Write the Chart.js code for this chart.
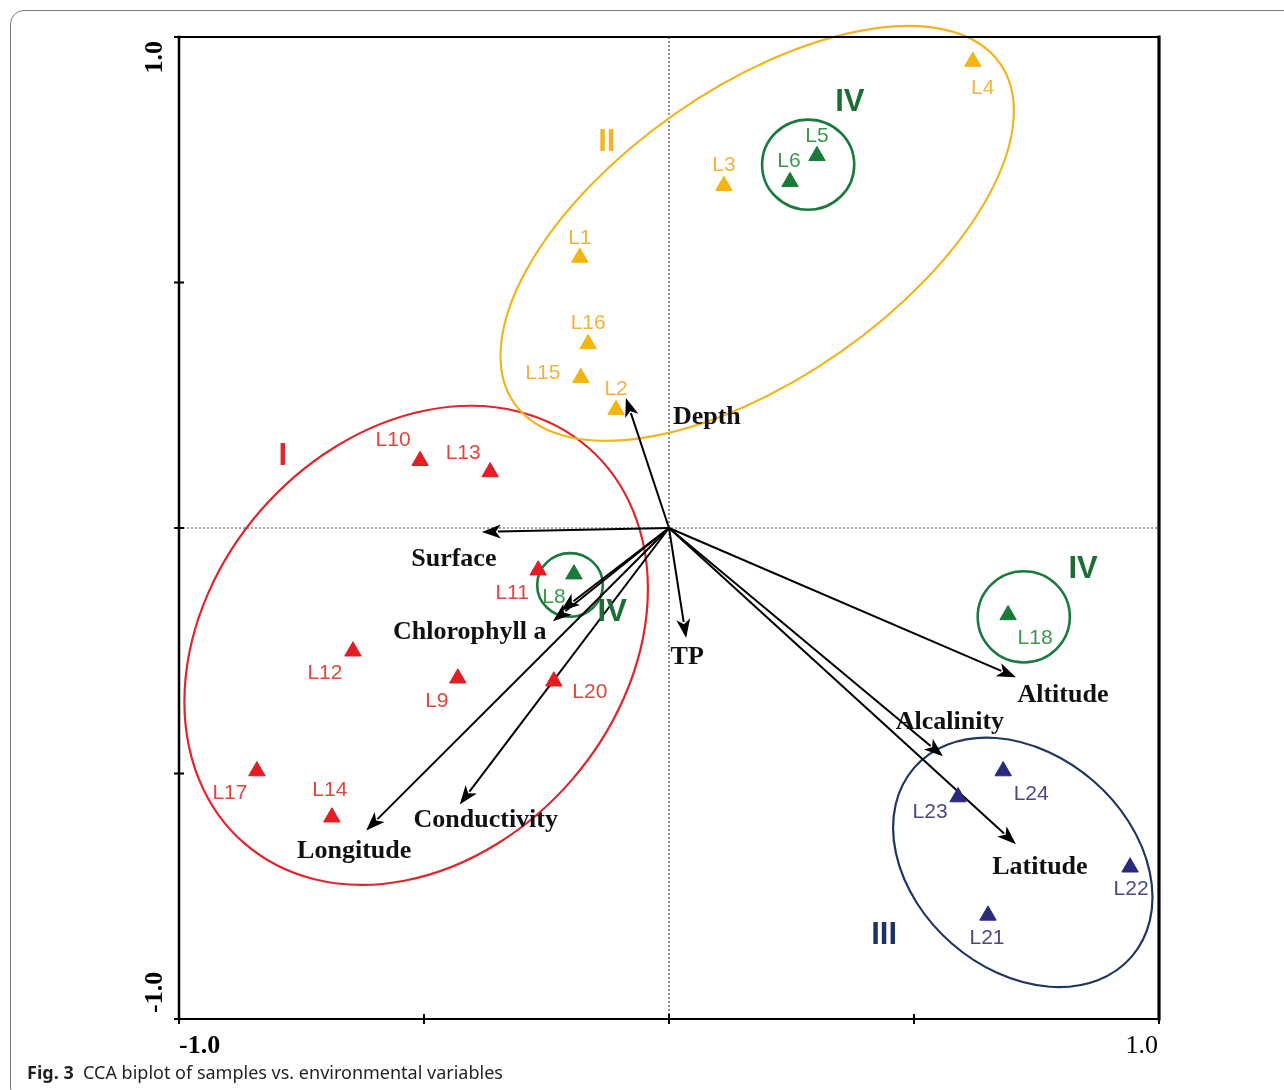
<!DOCTYPE html>
<html>
<head>
<meta charset="utf-8">
<script src="https://cdn.jsdelivr.net/npm/chart.js@4.4.1/dist/chart.umd.min.js"></script>
<style>
  html, body { margin: 0; padding: 0; background: #fff; overflow: hidden; }
  #wrap { position: relative; width: 1284px; height: 1090px; overflow: hidden; }
  #frame { position: absolute; left: 10px; top: 10px; width: 1330px; height: 1092px;
           border: 1.5px solid #7a7a7a; border-radius: 14px; box-sizing: border-box; }
  #c { position: absolute; left: 0; top: 0; }
  #caption { position: absolute; left: 27px; top: 1060px; font: 18px 'Noto Sans', 'Open Sans', sans-serif;
             color: #231f20; white-space: nowrap; }
  #caption b { font-weight: 700; }
</style>
</head>
<body>
<div id="wrap">
  <div id="frame"></div>
  <canvas id="c" width="1284" height="1090"></canvas>
  <div id="caption"><b>Fig. 3</b>&nbsp; CCA biplot of samples vs. environmental variables</div>
</div>
<script>
// ---- axis ticks ----
const axisTicks = [-1, -0.5, 0, 0.5, 1];
const axisEndLabels = ['-1.0', '1.0'];

// ---- sample scores (CCA axis 1, axis 2) by cluster ----
const groupI_ids = ['L10', 'L13', 'L11', 'L12', 'L9', 'L20', 'L17', 'L14'];
const groupI_x   = [-0.508, -0.365, -0.267, -0.645, -0.431, -0.235, -0.841, -0.688];
const groupI_y   = [ 0.137,  0.114, -0.086, -0.251, -0.306, -0.312, -0.495, -0.589];

const groupII_ids = ['L1', 'L2', 'L3', 'L4', 'L15', 'L16'];
const groupII_x   = [-0.182, -0.108, 0.112, 0.620, -0.180, -0.165];
const groupII_y   = [ 0.551,  0.241, 0.697, 0.950,  0.306,  0.375];

const groupIII_ids = ['L21', 'L22', 'L23', 'L24'];
const groupIII_x   = [ 0.651,  0.941,  0.590,  0.682];
const groupIII_y   = [-0.789, -0.691, -0.548, -0.495];

const groupIV_ids = ['L5', 'L6', 'L8', 'L18'];
const groupIV_x   = [0.302, 0.247, -0.194,  0.692];
const groupIV_y   = [0.758, 0.705, -0.094, -0.177];

// ---- environmental variable vectors (arrow tips) ----
const envNames = ['Depth', 'Surface', 'Chlorophyll a', '', 'Longitude', 'Conductivity', 'TP', 'Altitude', 'Alcalinity', 'Latitude'];
const envX     = [-0.088, -0.382, -0.221, -0.237, -0.618, -0.427,  0.035,  0.708,  0.559,  0.708];
const envY     = [ 0.265, -0.008, -0.169, -0.190, -0.616, -0.563, -0.224, -0.304, -0.465, -0.644];

// ---- cluster envelopes: centre, semi-axes, tilt (degrees) ----
const envGroup = ['I', 'II', 'III', 'IV', 'IV', 'IV'];
const envCx    = [-0.516,  0.180,  0.722,  0.284, -0.202,  0.724];
const envCy    = [-0.239,  0.600, -0.681,  0.740, -0.116, -0.181];
const envRa    = [ 0.535,  0.605,  0.294,  0.094,  0.067,  0.094];
const envRb    = [ 0.420,  0.296,  0.220,  0.092,  0.065,  0.093];
const envTilt  = [ 49,     35,    -41,     0,      0,      0];

// ---- cluster numerals ----
const numeralText = ['I', 'II', 'III', 'IV', 'IV', 'IV'];
const numeralX    = [-0.788, -0.127, 0.439, 0.369,  0.845, -0.116];
const numeralY    = [ 0.145,  0.785, -0.830, 0.866, -0.084, -0.173];

// ---- styling ----
const groupColor   = { I: '#e31d23', II: '#f4b414', III: '#2a2a7c', IV: '#1a7a37' };
const lineColor    = { I: '#e0262b', II: '#f2b522', III: '#1f3562', IV: '#1c7a3c' };
const textColor    = { I: '#e2453f', II: '#f2b33c', III: '#4a4985', IV: '#3b984c' };
const numeralColor = { I: '#e3262a', II: '#f2b52a', III: '#1d3461', IV: '#1c6e35' };

// label offsets from each point, in pixels
const sampleLabelOffset = {
  L1: [0, -19], L2: [0, -20], L3: [0, -21], L4: [10, 27], L15: [-38, -5], L16: [0, -21],
  L5: [0, -20], L6: [-1, -21], L8: [-20, 23], L18: [27, 23],
  L10: [-27, -21], L13: [-27, -19], L11: [-26, 23], L12: [-28, 22], L9: [-21, 23],
  L20: [36, 11], L17: [-27, 22], L14: [-2, -27],
  L24: [28, 23], L23: [-28, 15], L22: [1, 22], L21: [-1, 23]
};
const envLabelOffset = [[81, 19], [-28, 27], [-91, 21], [0, 0], [-12, 21], [26, 16], [1, 19], [47, 18], [7, -34], [24, 23]];

const zip = (xs, ys, ids) => xs.map((x, i) => ({ x: x, y: ys[i], id: ids[i] }));

const biplotDecor = {
  id: 'biplotDecor',
  beforeDatasetsDraw(chart) {
    const { ctx, chartArea: a, scales: { x, y } } = chart;
    const px = v => x.getPixelForValue(v), py = v => y.getPixelForValue(v);
    const unit = px(1) - px(0);
    ctx.save();
    // dotted zero lines
    ctx.strokeStyle = '#444';
    ctx.lineWidth = 1.2;
    ctx.setLineDash([2, 2]);
    ctx.beginPath();
    ctx.moveTo(px(0), a.top); ctx.lineTo(px(0), a.bottom);
    ctx.moveTo(a.left, py(0)); ctx.lineTo(a.right, py(0));
    ctx.stroke();
    ctx.setLineDash([]);

    // cluster envelopes
    envGroup.forEach((g, i) => {
      ctx.beginPath();
      ctx.strokeStyle = lineColor[g];
      ctx.lineWidth = g === 'IV' ? 2.6 : 2.2;
      ctx.ellipse(px(envCx[i]), py(envCy[i]), envRa[i] * unit, envRb[i] * unit,
                  -envTilt[i] * Math.PI / 180, 0, Math.PI * 2);
      ctx.stroke();
    });

    // environmental arrows
    const ox = px(0), oy = py(0);
    ctx.strokeStyle = '#000';
    ctx.fillStyle = '#000';
    ctx.lineWidth = 2;
    envNames.forEach((n, i) => {
      const tx = px(envX[i]), ty = py(envY[i]);
      const ang = Math.atan2(ty - oy, tx - ox);
      const hl = 19, hw = 7;
      const bx = tx - Math.cos(ang) * hl, by = ty - Math.sin(ang) * hl;
      ctx.beginPath();
      ctx.moveTo(ox, oy);
      ctx.lineTo(bx + Math.cos(ang) * 3, by + Math.sin(ang) * 3);
      ctx.stroke();
      ctx.beginPath();
      ctx.moveTo(tx, ty);
      ctx.lineTo(bx + Math.sin(ang) * hw, by - Math.cos(ang) * hw);
      ctx.lineTo(bx + Math.cos(ang) * 5, by + Math.sin(ang) * 5);
      ctx.lineTo(bx - Math.sin(ang) * hw, by + Math.cos(ang) * hw);
      ctx.closePath();
      ctx.fill();
    });

    // variable names
    ctx.font = "bold 26px 'Liberation Serif', 'Times New Roman', serif";
    ctx.textAlign = 'center';
    ctx.textBaseline = 'middle';
    ctx.fillStyle = '#111';
    envNames.forEach((n, i) => {
      if (!n) return;
      const o = envLabelOffset[i];
      ctx.fillText(n, px(envX[i]) + o[0], py(envY[i]) + o[1]);
    });

    // cluster numerals
    ctx.font = "bold 31px 'Liberation Sans', Arial, sans-serif";
    numeralText.forEach((t, i) => {
      ctx.fillStyle = numeralColor[envGroup[i]];
      ctx.fillText(t, px(numeralX[i]), py(numeralY[i]));
    });
    ctx.restore();
  },
  afterDatasetsDraw(chart) {
    const { ctx, chartArea: a, scales: { x, y } } = chart;
    const px = v => x.getPixelForValue(v), py = v => y.getPixelForValue(v);
    ctx.save();
    // sample names
    ctx.font = "21px 'Liberation Sans', Arial, sans-serif";
    ctx.textAlign = 'center';
    ctx.textBaseline = 'middle';
    chart.data.datasets.forEach(ds => {
      ctx.fillStyle = textColor[ds.label];
      ds.data.forEach(p => {
        const o = sampleLabelOffset[p.id] || [0, -20];
        ctx.fillText(p.id, px(p.x) + o[0], py(p.y) + o[1]);
      });
    });

    // frame
    ctx.strokeStyle = '#000';
    ctx.lineCap = 'square';
    ctx.lineWidth = 2.5;
    ctx.beginPath(); ctx.moveTo(a.left, a.top); ctx.lineTo(a.left, a.bottom); ctx.stroke();
    ctx.lineWidth = 2;
    ctx.beginPath(); ctx.moveTo(a.left, a.top); ctx.lineTo(a.right, a.top); ctx.stroke();
    ctx.beginPath(); ctx.moveTo(a.left, a.bottom); ctx.lineTo(a.right, a.bottom); ctx.stroke();
    ctx.lineWidth = 3.2;
    ctx.beginPath(); ctx.moveTo(a.right, a.top); ctx.lineTo(a.right, a.bottom); ctx.stroke();
    ctx.lineCap = 'butt';

    // tick marks
    ctx.lineWidth = 2;
    axisTicks.forEach(t => {
      const tx = px(t), ty = py(t);
      ctx.beginPath();
      ctx.moveTo(tx, a.bottom - 5); ctx.lineTo(tx, a.bottom + 5);
      ctx.moveTo(a.left - 5, ty); ctx.lineTo(a.left + 5, ty);
      ctx.stroke();
    });

    // end labels
    ctx.fillStyle = '#000';
    ctx.textBaseline = 'middle';
    ctx.font = "bold 26px 'Liberation Serif', 'Times New Roman', serif";
    ctx.textAlign = 'left';
    ctx.fillText(axisEndLabels[0], px(-1), a.bottom + 27);
    ctx.font = "26px 'Liberation Serif', 'Times New Roman', serif";
    ctx.textAlign = 'right';
    ctx.fillText(axisEndLabels[1], px(1) - 1, a.bottom + 27);

    ctx.font = "bold 26px 'Liberation Serif', 'Times New Roman', serif";
    ctx.save();
    ctx.translate(a.left - 24, py(1) + 4);
    ctx.rotate(-Math.PI / 2);
    ctx.textAlign = 'right';
    ctx.fillText(axisEndLabels[1], 0, 0);
    ctx.restore();
    ctx.save();
    ctx.translate(a.left - 24, py(-1) - 6);
    ctx.rotate(-Math.PI / 2);
    ctx.textAlign = 'left';
    ctx.fillText(axisEndLabels[0], 0, 0);
    ctx.restore();
    ctx.restore();
  }
};

const mkSet = (label, xs, ys, ids) => ({
  label: label,
  data: zip(xs, ys, ids),
  pointStyle: 'triangle',
  pointRadius: 9.5,
  backgroundColor: groupColor[label],
  borderColor: groupColor[label],
  borderWidth: 1
});

new Chart(document.getElementById('c'), {
  type: 'scatter',
  data: {
    datasets: [
      mkSet('I', groupI_x, groupI_y, groupI_ids),
      mkSet('II', groupII_x, groupII_y, groupII_ids),
      mkSet('III', groupIII_x, groupIII_y, groupIII_ids),
      mkSet('IV', groupIV_x, groupIV_y, groupIV_ids)
    ]
  },
  options: {
    responsive: false,
    animation: false,
    devicePixelRatio: 1,
    layout: { padding: { left: 179, right: 125, top: 37, bottom: 71 } },
    plugins: { legend: { display: false }, tooltip: { enabled: false } },
    scales: {
      x: { type: 'linear', min: -1, max: 1, display: false },
      y: { type: 'linear', min: -1, max: 1, display: false }
    }
  },
  plugins: [biplotDecor]
});
</script>
</body>
</html>
